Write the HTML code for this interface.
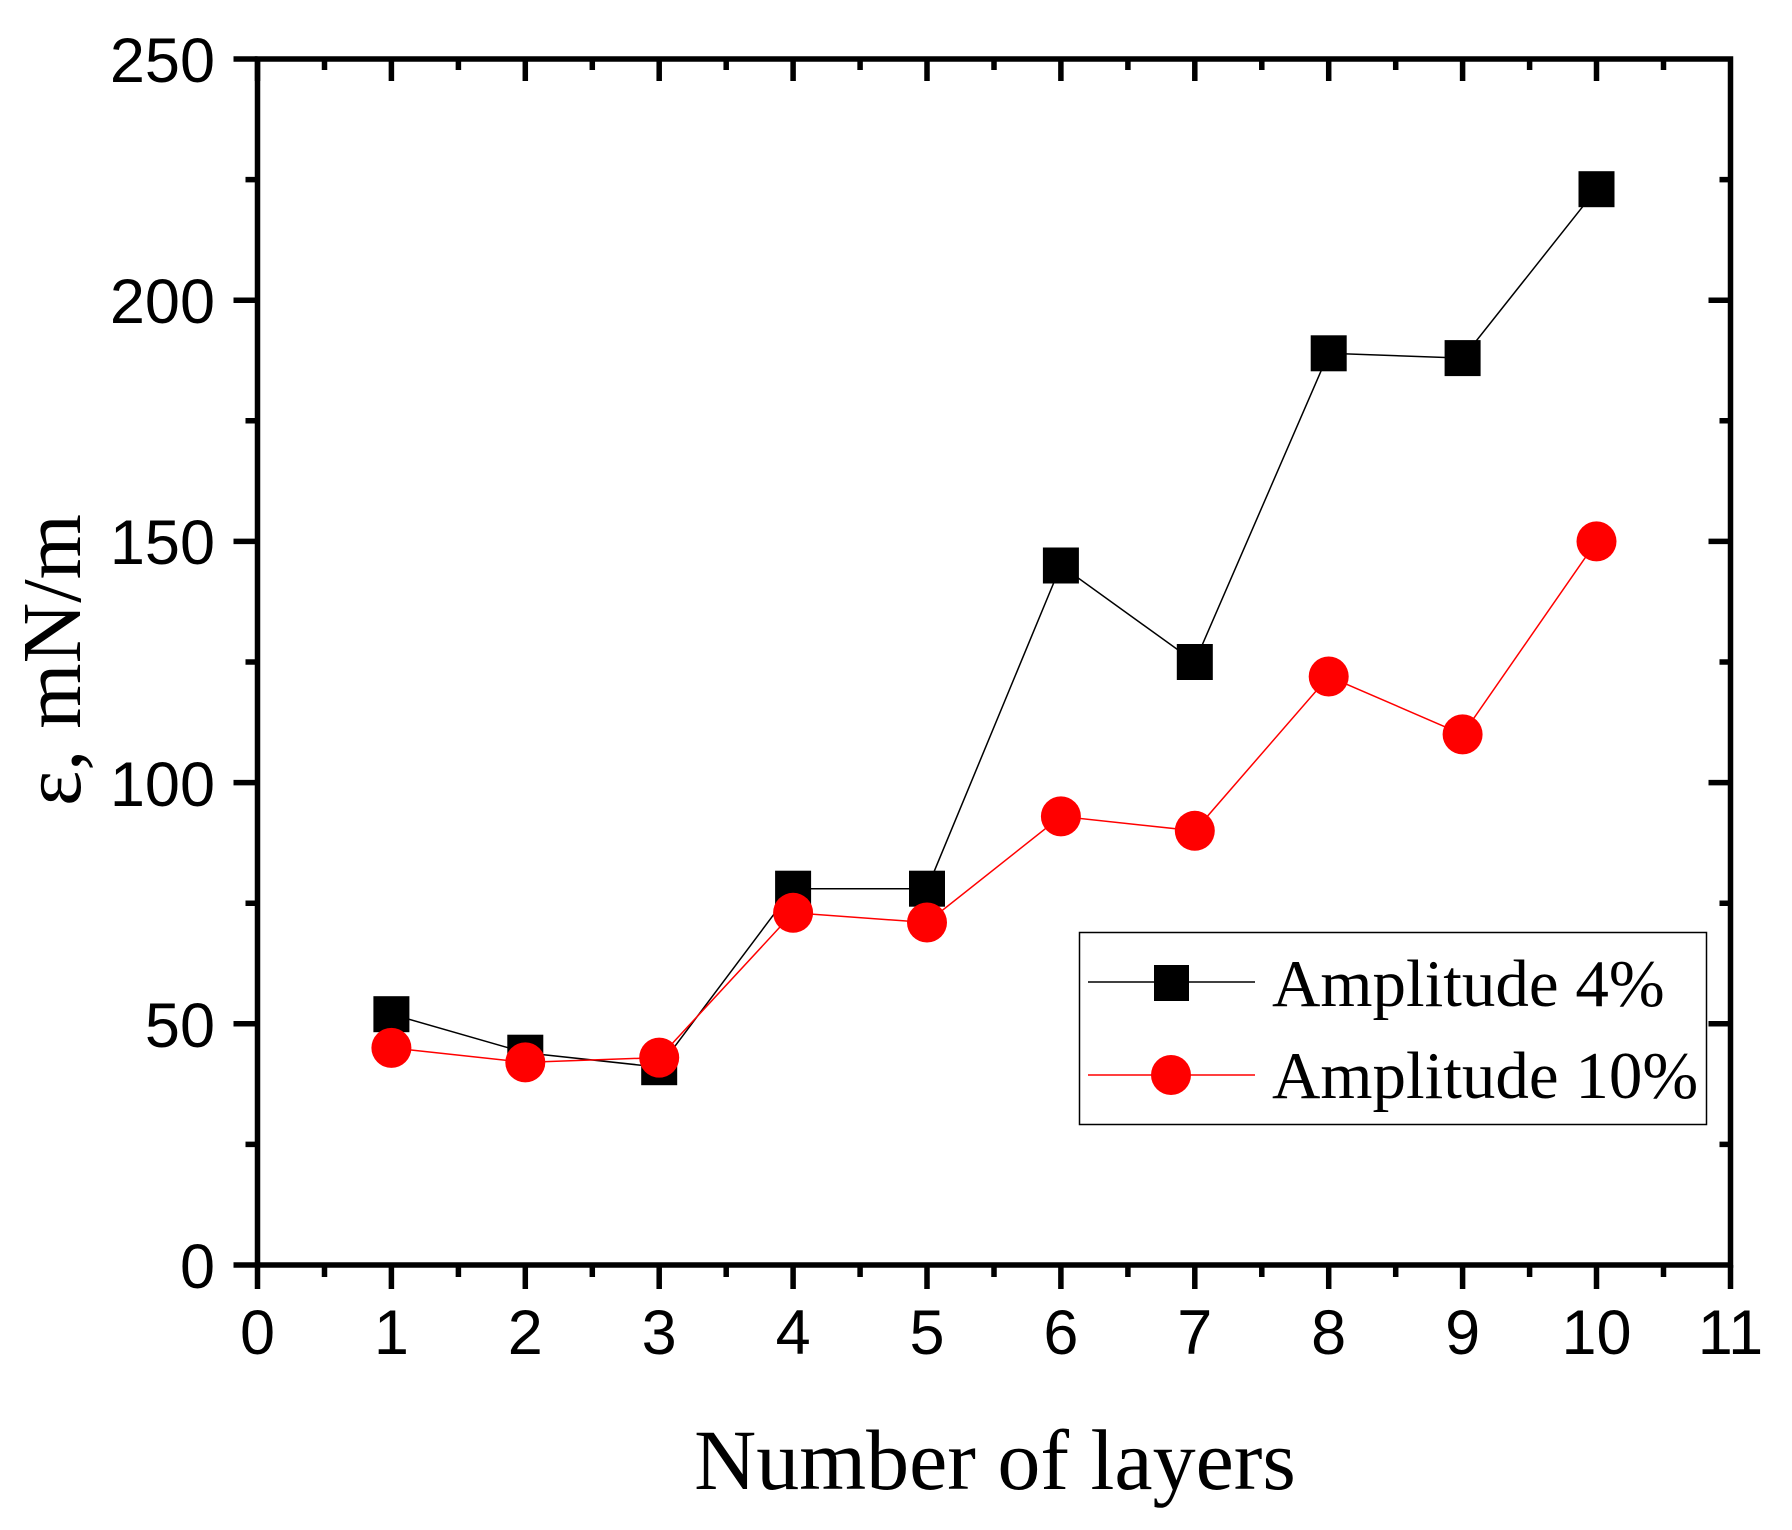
<!DOCTYPE html>
<html><head><meta charset="utf-8"><style>html,body{margin:0;padding:0;background:#fff;}svg{display:block;}</style></head>
<body>
<svg width="1792" height="1530" viewBox="0 0 1792 1530" xmlns="http://www.w3.org/2000/svg">
<rect width="1792" height="1530" fill="#fff"/>
<g stroke="#000" stroke-width="5.5" fill="none">
<rect x="257.5" y="59" width="1473" height="1206"/>
<path d="M257.5,1265v24M391.4,1265v24M525.3,1265v24M659.2,1265v24M793.1,1265v24M927,1265v24M1060.9,1265v24M1194.8,1265v24M1328.7,1265v24M1462.6,1265v24M1596.5,1265v24M1730.5,1265v24"/>
<path d="M324.5,1265v12M458.4,1265v12M592.3,1265v12M726.2,1265v12M860.1,1265v12M994,1265v12M1127.9,1265v12M1261.8,1265v12M1395.7,1265v12M1529.6,1265v12M1663.5,1265v12"/>
<path d="M257.5,59v22M391.4,59v22M525.3,59v22M659.2,59v22M793.1,59v22M927,59v22M1060.9,59v22M1194.8,59v22M1328.7,59v22M1462.6,59v22M1596.5,59v22"/>
<path d="M324.5,59v11M458.4,59v11M592.3,59v11M726.2,59v11M860.1,59v11M994,59v11M1127.9,59v11M1261.8,59v11M1395.7,59v11M1529.6,59v11M1663.5,59v11"/>
<path d="M257.5,1265h-24M257.5,1023.8h-24M257.5,782.6h-24M257.5,541.4h-24M257.5,300.2h-24M257.5,59h-24"/>
<path d="M257.5,1144.4h-12M257.5,903.2h-12M257.5,662h-12M257.5,420.8h-12M257.5,179.6h-12"/>
<path d="M1730.5,1023.8h-22M1730.5,782.6h-22M1730.5,541.4h-22M1730.5,300.2h-22"/>
<path d="M1730.5,1144.4h-11M1730.5,903.2h-11M1730.5,662h-11M1730.5,420.8h-11M1730.5,179.6h-11"/>
</g>
<g font-family="Liberation Sans, Arial, sans-serif" font-size="63" fill="#000" text-anchor="end">
<text x="215" y="1288">0</text>
<text x="215" y="1047">50</text>
<text x="215" y="806">100</text>
<text x="215" y="564">150</text>
<text x="215" y="323">200</text>
<text x="215" y="82">250</text>
</g>
<g font-family="Liberation Sans, Arial, sans-serif" font-size="63" fill="#000" text-anchor="middle">
<text x="257.5" y="1354">0</text>
<text x="391.4" y="1354">1</text>
<text x="525.3" y="1354">2</text>
<text x="659.2" y="1354">3</text>
<text x="793.1" y="1354">4</text>
<text x="927" y="1354">5</text>
<text x="1060.9" y="1354">6</text>
<text x="1194.8" y="1354">7</text>
<text x="1328.7" y="1354">8</text>
<text x="1462.6" y="1354">9</text>
<text x="1596.5" y="1354">10</text>
<text x="1730.5" y="1354">11</text>
</g>
<text x="995" y="1489" font-family="Liberation Serif, serif" font-size="86" text-anchor="middle">Number of layers</text>
<text transform="translate(80,660) rotate(-90)" font-family="Liberation Serif, serif" font-size="84" text-anchor="middle">ε, mN/m</text>
<polyline fill="none" stroke="#000" stroke-width="1.5" points="391.4,1014.2 525.3,1052.7 659.2,1067.2 793.1,888.7 927,888.7 1060.9,565.5 1194.8,662 1328.7,353.3 1462.6,358.1 1596.5,189.2"/>
<g fill="#000">
<rect x="373.4" y="996.2" width="36" height="36"/>
<rect x="507.3" y="1034.7" width="36" height="36"/>
<rect x="641.2" y="1049.2" width="36" height="36"/>
<rect x="775.1" y="870.7" width="36" height="36"/>
<rect x="909" y="870.7" width="36" height="36"/>
<rect x="1042.9" y="547.5" width="36" height="36"/>
<rect x="1176.8" y="644" width="36" height="36"/>
<rect x="1310.7" y="335.3" width="36" height="36"/>
<rect x="1444.6" y="340.1" width="36" height="36"/>
<rect x="1578.5" y="171.2" width="36" height="36"/>
</g>
<polyline fill="none" stroke="#f00" stroke-width="1.5" points="391.4,1047.9 525.3,1062.4 659.2,1057.6 793.1,912.8 927,922.5 1060.9,816.4 1194.8,830.8 1328.7,676.5 1462.6,734.4 1596.5,541.4"/>
<g fill="#f00">
<circle cx="391.4" cy="1047.9" r="20"/>
<circle cx="525.3" cy="1062.4" r="20"/>
<circle cx="659.2" cy="1057.6" r="20"/>
<circle cx="793.1" cy="912.8" r="20"/>
<circle cx="927" cy="922.5" r="20"/>
<circle cx="1060.9" cy="816.4" r="20"/>
<circle cx="1194.8" cy="830.8" r="20"/>
<circle cx="1328.7" cy="676.5" r="20"/>
<circle cx="1462.6" cy="734.4" r="20"/>
<circle cx="1596.5" cy="541.4" r="20"/>
</g>
<rect x="1079.5" y="932.5" width="627" height="192" fill="#fff" stroke="#000" stroke-width="1.5"/>
<line x1="1088" y1="982" x2="1255" y2="982" stroke="#000" stroke-width="1.5"/>
<rect x="1154" y="965" width="35" height="36" fill="#000"/>
<line x1="1088" y1="1075" x2="1255" y2="1075" stroke="#f00" stroke-width="1.5"/>
<circle cx="1171" cy="1075" r="20" fill="#f00"/>
<g font-family="Liberation Serif, serif" font-size="67" fill="#000">
<text x="1272" y="1006">Amplitude 4%</text>
<text x="1272" y="1098">Amplitude 10%</text>
</g>
</svg>
</body></html>
